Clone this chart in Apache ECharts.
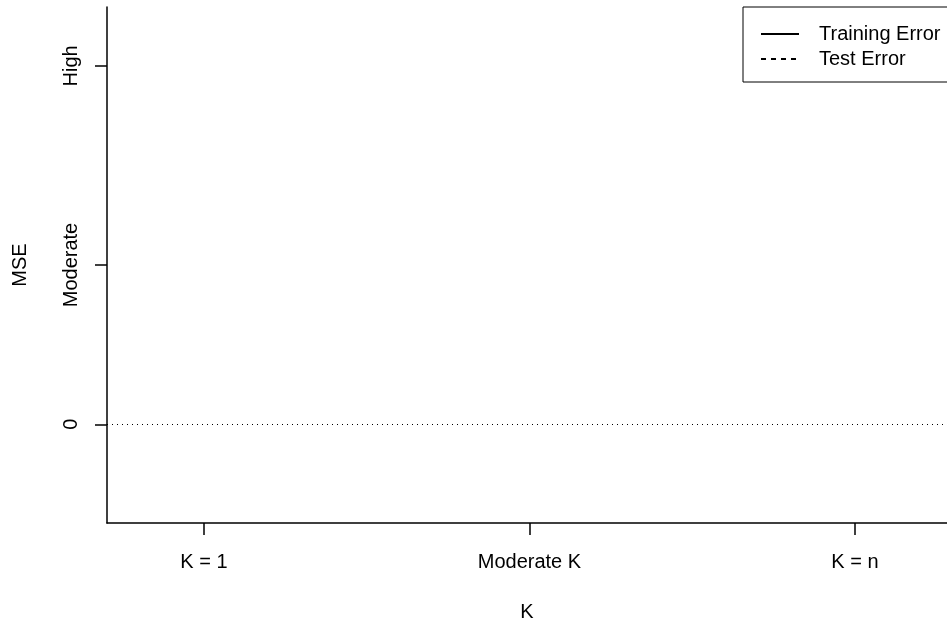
<!DOCTYPE html>
<html>
<head>
<meta charset="utf-8">
<script src="https://cdn.jsdelivr.net/npm/echarts@6/dist/echarts.min.js"></script>
<style>
  html, body { margin: 0; padding: 0; background: #fff; overflow: hidden; }
  #chart { width: 947px; height: 627px; }
</style>
</head>
<body>
<div id="chart"></div>
<script>
// x positions (1 = K=1, 2 = Moderate K, 3 = K=n) and their labels
const xTickValues = [1, 2, 3];
const xTickLabels = ['K = 1', 'Moderate K', 'K = n'];
// y positions and their labels
const yTickValues = [0, 4, 9];
const yTickLabels = ['0', 'Moderate', 'High'];
// axis ranges (plot region clipped at the right edge of the window)
const xRange = [0.702, 3.283];
const yRange = [-2.48, 10.48];
// series (no visible points in the reference)
const trainingError = [];
const testError = [];
const zeroLine = [0];

const FONT = 'Liberation Sans, Arial, Helvetica, sans-serif';

const xLabelMap = {}; xTickValues.forEach((v, i) => xLabelMap[v] = xTickLabels[i]);
const yLabelMap = {}; yTickValues.forEach((v, i) => yLabelMap[v] = yTickLabels[i]);

const chart = echarts.init(document.getElementById('chart'), null, { renderer: 'canvas' });
chart.setOption({
  backgroundColor: '#ffffff',
  animation: false,
  textStyle: { fontFamily: FONT },
  grid: { left: 107, top: 7, bottom: 101, right: 0, containLabel: false },
  legend: {
    data: ['Training Error', 'Test Error'],
    orient: 'vertical',
    left: 743,
    top: 7,
    padding: [17, 10, 13, 17],
    itemWidth: 38,
    itemHeight: 20,
    itemGap: 5,
    borderColor: '#000',
    borderWidth: 1,
    borderRadius: 0,
    backgroundColor: '#fff',
    selectedMode: false,
    itemStyle: { opacity: 0 },
    textStyle: { fontFamily: FONT, fontSize: 20, color: '#000', padding: [0, 0, 0, 15] }
  },
  xAxis: {
    type: 'value',
    min: xRange[0],
    max: xRange[1],
    name: 'K',
    nameLocation: 'middle',
    nameGap: 79,
    nameTextStyle: { fontFamily: FONT, fontSize: 20, color: '#000' },
    axisLine: { show: true, onZero: false, lineStyle: { color: '#000', width: 1.5 } },
    axisTick: { show: true, customValues: xTickValues, length: 12, lineStyle: { color: '#000', width: 1.5 } },
    axisLabel: {
      customValues: xTickValues,
      formatter: v => xLabelMap[v] !== undefined ? xLabelMap[v] : '',
      margin: 29,
      fontFamily: FONT, fontSize: 20, color: '#000'
    },
    splitLine: { show: false }
  },
  yAxis: {
    type: 'value',
    min: yRange[0],
    max: yRange[1],
    name: 'MSE',
    nameLocation: 'middle',
    nameGap: 77,
    nameRotate: 90,
    nameTextStyle: { fontFamily: FONT, fontSize: 20, color: '#000' },
    axisLine: { show: true, onZero: false, lineStyle: { color: '#000', width: 1.5 } },
    axisTick: { show: true, customValues: yTickValues, length: 12, lineStyle: { color: '#000', width: 1.5 } },
    axisLabel: {
      customValues: yTickValues,
      formatter: v => yLabelMap[v] !== undefined ? yLabelMap[v] : '',
      rotate: 90,
      margin: 26,
      fontFamily: FONT, fontSize: 20, color: '#000'
    },
    splitLine: { show: false }
  },
  series: [
    {
      name: 'Training Error', type: 'line', symbol: 'none',
      data: trainingError,
      lineStyle: { color: '#000', width: 1.5, type: 'solid' },
      itemStyle: { color: '#000' }
    },
    {
      name: 'Test Error', type: 'line', symbol: 'none',
      data: testError,
      lineStyle: { color: '#000', width: 1.5, type: [5, 5] },
      itemStyle: { color: '#000' }
    },
    {
      name: 'zero', type: 'line', symbol: 'none', data: [],
      markLine: {
        silent: true, symbol: 'none', animation: false,
        label: { show: false },
        lineStyle: { color: '#000', width: 1, type: [1, 4] },
        data: zeroLine.map(v => ({ yAxis: v }))
      }
    }
  ]
});
</script>
</body>
</html>
